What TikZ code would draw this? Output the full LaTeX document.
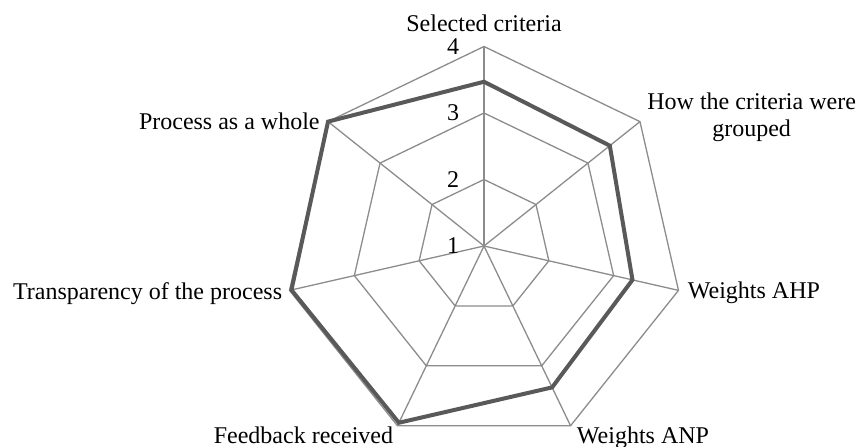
\documentclass[tikz,border=0pt]{standalone}
\usepackage{fontspec}
\setmainfont{Liberation Serif}
\usetikzlibrary{positioning}
\tikzset{
	gridline/.style = {draw=black!45, line width=0.65pt},% grille du radar
	dataline/.style = {draw=black!65, line width=2pt, line join=miter},% courbe des notes
	axlabel/.style = {font=\fontsize{12}{13.5}\selectfont, inner sep=0pt,
		align=center},% libelle d'axe
	ticklabel/.style = {font=\fontsize{12}{13.5}\selectfont, inner sep=0pt}% graduation
}

\begin{document}
\begin{tikzpicture}[x=0.5pt,y=0.5pt]
\useasboundingbox (0,0) rectangle (857,446);
\begin{scope}[shift={(484,200)}]
% anneaux 2, 3, 4
\foreach \v in {2,3,4}
	\draw[gridline] (90:{(\v-1)*66.5})
	\foreach \k in {1,...,6} { -- ({90-\k*360/7}:{(\v-1)*66.5}) } -- cycle;
% rayons et sommets exterieurs
\foreach \k in {0,...,6} {
	\coordinate (o\k) at ({90-\k*360/7}:199.5);
	\draw[gridline] (0,0) -- (o\k);
}
% graduations
\foreach \v in {1,...,4}
	\node[ticklabel] (t\v) at (-31,{(\v-1)*66.5}) {\v};
% notes moyennes
\foreach \k/\v in {0/3.47,1/3.42,2/3.29,3/3.36,4/3.95,5/3.97,6/4.0}
	\coordinate (d\k) at ({90-\k*360/7}:{(\v-1)*66.5});
\draw[dataline] (d0) -- (d1) -- (d2) -- (d3) -- (d4) -- (d5) -- (d6) -- cycle;
\end{scope}
% libelles
\node[axlabel, above=7pt of o0] (sel) {Selected criteria};
\node[axlabel, right=3.5pt of o1, yshift=2pt] (grp) {How the criteria were\\grouped};
\node[axlabel, right=4.5pt of o2, yshift=-1pt] (ahp) {Weights AHP};
\node[axlabel, below right=0.5pt and 3pt of o3] (anp) {Weights ANP};
\node[axlabel, below left=0.5pt and 2pt of o4] (fbk) {Feedback received};
\node[axlabel, left=3.5pt of o5, yshift=-1.5pt] (trp) {Transparency of the process};
\node[axlabel, left=4pt of o6] (whl) {Process as a whole};
\end{tikzpicture}
\end{document}
